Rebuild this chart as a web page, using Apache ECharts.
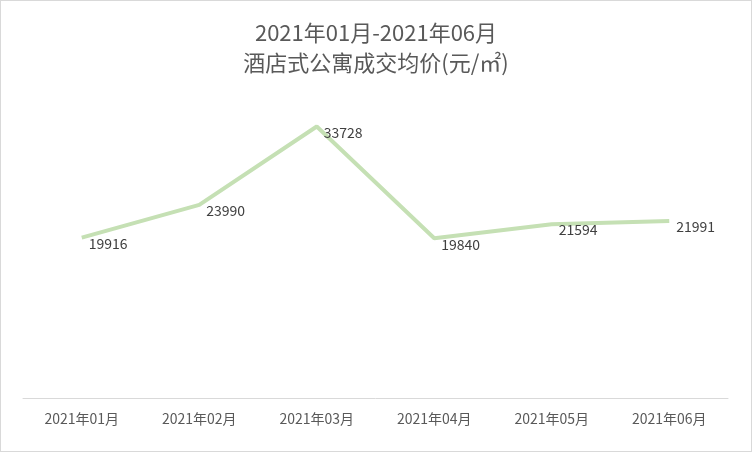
<!DOCTYPE html>
<html>
<head>
<meta charset="utf-8">
<script src="https://cdn.jsdelivr.net/npm/echarts@6/dist/echarts.min.js"></script>
<style>
  html, body { margin: 0; padding: 0; background: #fff; }
  #main { width: 750px; height: 450px; border: 1px solid #d9d9d9; }
</style>
</head>
<body>
<div id="main"></div>
<script>
  const months = ['2021年01月', '2021年02月', '2021年03月', '2021年04月', '2021年05月', '2021年06月']
  const prices = [19916, 23990, 33728, 19840, 21594, 21991]

  const chart = echarts.init(document.getElementById('main'))
  chart.setOption({
    animation: false,
    title: {
      text: '2021年01月-2021年06月\n酒店式公寓成交均价(元/㎡)',
      left: 'center',
      top: 12,
      textStyle: {
        fontFamily: 'Noto Sans CJK SC',
        fontSize: 22,
        fontWeight: 'normal',
        color: '#595959',
        lineHeight: 30
      }
    },
    grid: { left: 22, right: 23, top: 75, bottom: 53 },
    xAxis: {
      type: 'category',
      data: months,
      axisTick: { show: false },
      axisLine: { lineStyle: { color: '#d9d9d9' } },
      axisLabel: { color: '#595959', fontSize: 14, margin: 14, fontFamily: 'Noto Sans CJK SC' }
    },
    yAxis: {
      type: 'value',
      min: 0,
      max: 40000,
      show: false,
      splitLine: { show: false }
    },
    series: [{
      type: 'line',
      data: prices,
      symbol: 'circle',
      symbolSize: 0,
      showSymbol: true,
      lineStyle: { color: '#c5e0b4', width: 4 },
      itemStyle: { color: '#c5e0b4' },
      label: {
        show: true,
        position: 'right',
        offset: [2, 6],
        color: '#404040',
        fontSize: 14,
        fontFamily: 'Noto Sans CJK SC'
      }
    }]
  })
</script>
</body>
</html>
